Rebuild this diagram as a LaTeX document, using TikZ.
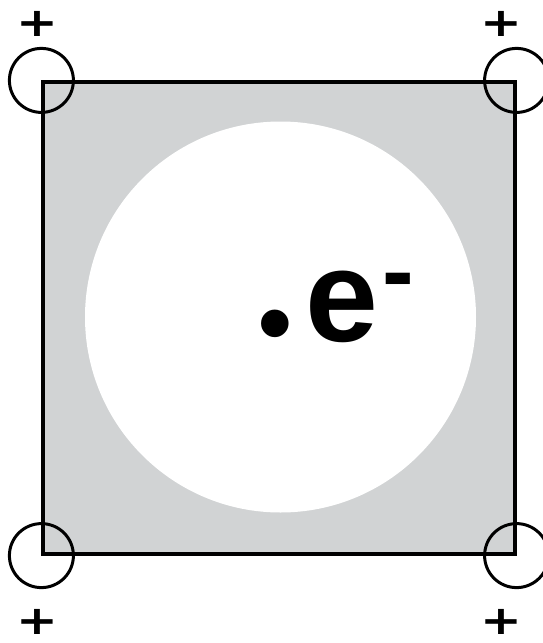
\documentclass[tikz,border=0pt]{standalone}
\usepackage{fontspec}
\setmainfont{Liberation Sans}
\newfontfamily\signfont{DejaVu Sans}
\usetikzlibrary{positioning}
\definecolor{cellgray}{RGB}{209,211,212}

\begin{document}
\begin{tikzpicture}[x=1pt, y=-1pt,
    ring/.style={draw, circle, minimum size=64pt, line width=3pt, inner sep=0pt},
    charge/.style={font=\signfont\fontsize{50}{50}\selectfont\bfseries, inner sep=0pt}]
    \useasboundingbox (0,0) rectangle (542,643);
    % grey cell with the white cavity
    \node[draw, fill=cellgray, minimum size=472pt, line width=3.2pt, inner sep=0pt] (cell) at (279,318) {};
    \node[circle, fill=white, minimum size=391pt, inner sep=0pt] (cavity) at (280.5,317) {};
    % the trapped electron
    \node[anchor=north, inner sep=0pt, font=\fontsize{96}{96}\selectfont\bfseries] (dot) at (275,310) {•};
    \node[anchor=base, inner sep=0pt, font=\fontsize{131}{131}\selectfont\bfseries] (elec) at (341.5,341) {e};
    \node[anchor=base, inner sep=0pt, font=\fontsize{95}{95}\selectfont\bfseries] (minus) at (398,303) {-};
    % rings on the corners
    \node[ring] (ringNW) at (cell.north west) {};
    \node[ring] (ringNE) at (cell.north east) {};
    \node[ring] (ringSW) at (cell.south west) {};
    \node[ring] (ringSE) at (cell.south east) {};
    % positive charges
    \node[charge] (plusNW) at (37,24) {\scalebox{1}[0.8]{+}};
    \node[charge] (plusNE) at (501,24) {\scalebox{1}[0.8]{+}};
    \node[charge] (plusSW) at (37,622) {\scalebox{1}[0.8]{+}};
    \node[charge] (plusSE) at (501,622) {\scalebox{1}[0.8]{+}};
\end{tikzpicture}
\end{document}
